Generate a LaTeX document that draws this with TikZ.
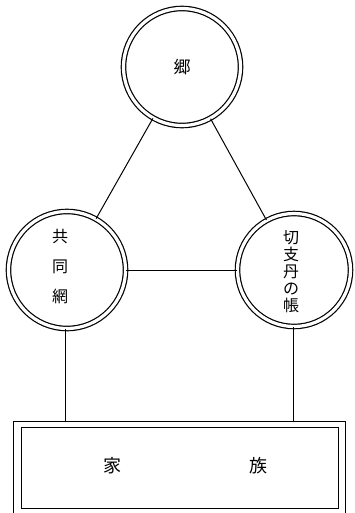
\documentclass[tikz,border=0pt]{standalone}
\usepackage{fontspec}
\newfontfamily\cjk{Noto Sans CJK JP}
\begin{document}
\begin{tikzpicture}[x=1pt,y=-1pt,
  line width=1pt,
  dcirc/.style={circle,draw,double,double distance=3.2pt,line width=1.2pt,minimum size=#1,inner sep=0pt,font=\cjk\fontsize{17}{17}\selectfont},
  lbl/.style={font=\cjk\fontsize{16}{17}\selectfont,inner sep=0pt},
  big/.style={font=\cjk\fontsize{18}{18}\selectfont,inner sep=0pt}]
\useasboundingbox (0,0) rectangle (354,513);
\node[dcirc=117pt] (gou) at (182,67) {郷};
\node[dcirc=117pt] (kyo) at (67,270) {};
\node[dcirc=113pt] (kiri) at (294,270) {};
\node[lbl,align=center] (kyot) at (60,267) {共\\[13pt]同\\[13pt]網};
\node[lbl,align=center] (kirit) at (291,272) {切\\支\\丹\\の\\帳};
\draw (gou) -- (kyo);
\draw (gou) -- (kiri);
\draw (kyo) -- (kiri);
\draw (13,421) rectangle (345,520);
\node[draw,minimum width=317pt,minimum height=81pt,anchor=north west,inner sep=0pt] (fam) at (21,427) {};
\node[big] (ka) at (112,466) {家};
\node[big] (zoku) at (258,466) {族};
\coordinate (famL) at (65,421);
\coordinate (famR) at (293,421);
\draw (kyo.south -| famL) -- (famL);
\draw (kiri.south -| famR) -- (famR);
\end{tikzpicture}
\end{document}
